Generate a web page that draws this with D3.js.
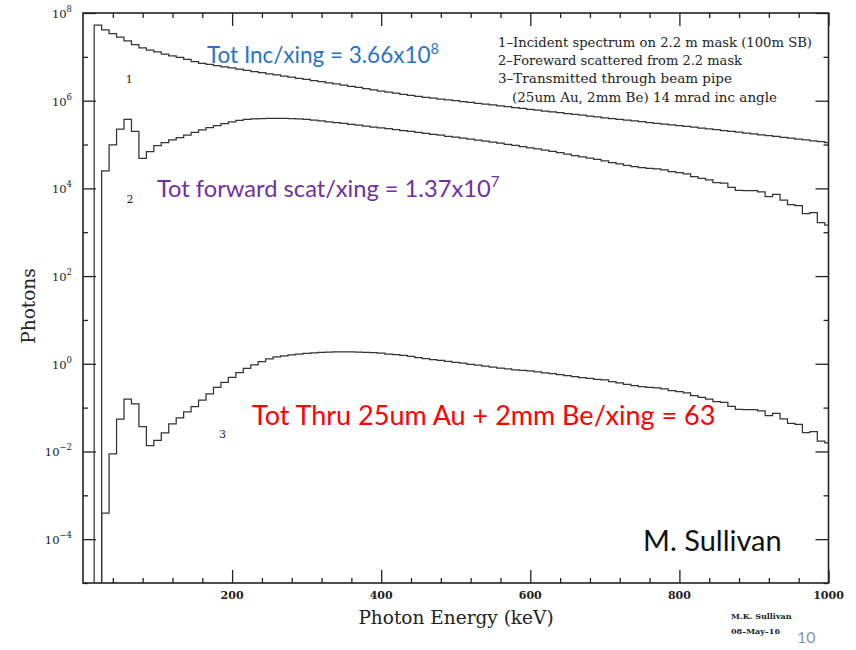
<!DOCTYPE html>
<html>
<head>
<meta charset="utf-8">
<script src="https://cdn.jsdelivr.net/npm/d3@7"></script>
<style>
  html, body { margin: 0; padding: 0; background: #fff; }
  svg { display: block; }
</style>
</head>
<body>
<svg id="chart" width="856" height="650"></svg>
<script>
// Photon spectra per beam crossing, histogrammed in 10 keV bins (bin centres).
const binWidth = 10;
const incidentStart = 20;      // first non-empty bin centre, keV
const forwardStart = 30;
const transmittedStart = 30;

// 1 - incident spectrum on the 2.2 m mask
const incident = [
  5.3e7, 4.1e7, 3.4e7, 2.8e7, 2.3e7, 1.9e7, 1.6e7, 1.43e7, 1.29e7, 1.16e7,
  1.05e7, 9.7e6, 8.7e6, 7.8e6, 7.13e6, 6.70e6, 6.31e6, 5.93e6, 5.57e6, 5.24e6,
  4.93e6, 4.63e6, 4.36e6, 4.10e6, 3.87e6, 3.65e6, 3.44e6, 3.24e6, 3.06e6, 2.88e6,
  2.72e6, 2.56e6, 2.41e6, 2.27e6, 2.13e6, 2.00e6, 1.88e6, 1.76e6, 1.66e6, 1.56e6,
  1.48e6, 1.40e6, 1.32e6, 1.25e6, 1.19e6, 1.14e6, 1.09e6, 1.04e6, 1.00e6, 9.55e5,
  9.14e5, 8.73e5, 8.35e5, 7.98e5, 7.63e5, 7.29e5, 6.97e5, 6.67e5, 6.37e5, 6.08e5,
  5.82e5, 5.56e5, 5.32e5, 5.08e5, 4.86e5, 4.66e5, 4.45e5, 4.26e5, 4.07e5, 3.91e5,
  3.75e5, 3.61e5, 3.46e5, 3.32e5, 3.18e5, 3.05e5, 2.94e5, 2.82e5, 2.70e5, 2.59e5,
  2.48e5, 2.38e5, 2.28e5, 2.18e5, 2.09e5, 2.00e5, 1.91e5, 1.83e5, 1.75e5, 1.67e5,
  1.60e5, 1.53e5, 1.46e5, 1.40e5, 1.33e5, 1.27e5, 1.21e5, 1.16e5, 1.10e5
];

// 2 - forward scattered from the 2.2 m mask
const forward = [
  2.5e4, 9.8e4, 2.26e5, 3.77e5, 1.99e5, 4.86e4, 6.87e4, 9.42e4, 1.11e5, 1.27e5,
  1.43e5, 1.65e5, 1.90e5, 2.15e5, 2.42e5, 2.69e5, 2.99e5, 3.27e5, 3.57e5, 3.77e5,
  3.87e5, 3.91e5, 3.93e5, 3.93e5, 3.93e5, 3.91e5, 3.87e5, 3.77e5, 3.61e5, 3.46e5,
  3.30e5, 3.17e5, 3.02e5, 2.88e5, 2.76e5, 2.63e5, 2.51e5, 2.41e5, 2.31e5, 2.20e5,
  2.09e5, 2.00e5, 1.89e5, 1.80e5, 1.71e5, 1.63e5, 1.54e5, 1.47e5, 1.40e5, 1.33e5,
  1.26e5, 1.20e5, 1.14e5, 1.08e5, 1.01e5, 9.51e4, 8.93e4, 8.43e4, 7.92e4, 7.43e4,
  6.98e4, 6.52e4, 6.06e4, 5.62e4, 5.26e4, 4.91e4, 4.61e4, 4.22e4, 3.86e4, 3.60e4,
  3.36e4, 3.13e4, 2.97e4, 2.87e4, 2.77e4, 2.63e4, 2.40e4, 2.28e4, 2.13e4, 1.85e4,
  1.70e4, 1.56e4, 1.35e4, 1.31e4, 1.06e4, 9.05e3, 8.87e3, 8.87e3, 8.28e3, 6.47e3,
  7.33e3, 5.43e3, 4.29e3, 4.07e3, 2.65e3, 2.79e3, 1.65e3, 1.46e3
];

// 3 - transmitted through the beam pipe (25 um Au, 2 mm Be)
const transmitted = [
  3.9e-4, 8.8e-3, 5.46e-2, 0.157, 0.122, 3.68e-2, 1.35e-2, 1.80e-2, 2.64e-2, 4.24e-2,
  5.81e-2, 7.96e-2, 0.106, 0.149, 0.205, 0.288, 0.378, 0.492, 0.627, 0.789,
  0.94, 1.12, 1.29, 1.43, 1.52, 1.60, 1.67, 1.73, 1.78, 1.82,
  1.84, 1.86, 1.86, 1.86, 1.85, 1.83, 1.80, 1.74, 1.67, 1.61,
  1.55, 1.47, 1.38, 1.31, 1.25, 1.19, 1.13, 1.08, 1.03, 0.975,
  0.929, 0.881, 0.841, 0.798, 0.761, 0.726, 0.703, 0.685, 0.653, 0.623,
  0.594, 0.566, 0.538, 0.508, 0.480, 0.465, 0.443, 0.428, 0.391, 0.365,
  0.341, 0.317, 0.301, 0.291, 0.281, 0.266, 0.244, 0.231, 0.216, 0.187,
  0.172, 0.157, 0.137, 0.132, 0.107, 0.0916, 0.0897, 0.0897, 0.0838, 0.0655,
  0.0743, 0.0551, 0.0435, 0.0413, 0.0269, 0.0283, 0.0172, 0.0156
];

const xMajorTicks = [200, 400, 600, 800, 1000];
const xMinorTicks = d3.range(40, 1000, 40).filter(v => v % 200 !== 0);
const yMajorExponents = [-4, -2, 0, 2, 4, 6, 8];
const yMinorExponents = [-5, -3, -1, 1, 3, 5, 7];

const legendLines = [
  "1\u2013Incident spectrum on 2.2 m mask (100m SB)",
  "2\u2013Foreward scattered from 2.2 mask",
  "3\u2013Transmitted through beam pipe",
  "(25um Au, 2mm Be) 14 mrad inc angle"
];

const svg = d3.select("#chart");
const plot = { left: 83, right: 828.5, top: 13, bottom: 583 };

const x = d3.scaleLinear().domain([0, 1000]).range([plot.left, plot.right]);
const y = d3.scaleLog().domain([1e-5, 1e8]).range([plot.bottom, plot.top]);

const serif = "'DejaVu Serif', 'Liberation Serif', serif";
const sans = "Lato, 'Open Sans', sans-serif";

// clip for the histograms
svg.append("defs").append("clipPath").attr("id", "plotClip")
  .append("rect")
  .attr("x", plot.left).attr("y", plot.top)
  .attr("width", plot.right - plot.left).attr("height", plot.bottom - plot.top);

// ---- axes: inward ticks on all four sides ----
function styleAxis(g) {
  g.select(".domain").remove();
  g.selectAll(".tick line").attr("stroke", "#222").attr("stroke-width", 1.3);
  g.selectAll(".tick text").remove();
}
const majorLen = 13, minorLen = 5;
const yMajor = yMajorExponents.map(e => Math.pow(10, e));
const yMinor = yMinorExponents.map(e => Math.pow(10, e));

svg.append("g").attr("transform", `translate(0,${plot.bottom})`)
  .call(d3.axisBottom(x).tickValues(xMajorTicks).tickSize(-majorLen)).call(styleAxis);
svg.append("g").attr("transform", `translate(0,${plot.bottom})`)
  .call(d3.axisBottom(x).tickValues(xMinorTicks).tickSize(-minorLen)).call(styleAxis);
svg.append("g").attr("transform", `translate(0,${plot.top})`)
  .call(d3.axisTop(x).tickValues(xMajorTicks).tickSize(-majorLen)).call(styleAxis);
svg.append("g").attr("transform", `translate(0,${plot.top})`)
  .call(d3.axisTop(x).tickValues(xMinorTicks).tickSize(-minorLen)).call(styleAxis);
svg.append("g").attr("transform", `translate(${plot.left},0)`)
  .call(d3.axisLeft(y).tickValues(yMajor).tickSize(-majorLen)).call(styleAxis);
svg.append("g").attr("transform", `translate(${plot.left},0)`)
  .call(d3.axisLeft(y).tickValues(yMinor).tickSize(-minorLen)).call(styleAxis);
svg.append("g").attr("transform", `translate(${plot.right},0)`)
  .call(d3.axisRight(y).tickValues(yMajor).tickSize(-majorLen)).call(styleAxis);
svg.append("g").attr("transform", `translate(${plot.right},0)`)
  .call(d3.axisRight(y).tickValues(yMinor).tickSize(-minorLen)).call(styleAxis);

// frame
svg.append("rect")
  .attr("x", plot.left).attr("y", plot.top)
  .attr("width", plot.right - plot.left).attr("height", plot.bottom - plot.top)
  .attr("fill", "none").attr("stroke", "#222").attr("stroke-width", 1.6);

// x tick labels
svg.append("g").selectAll("text").data(xMajorTicks).join("text")
  .attr("x", d => x(d)).attr("y", plot.bottom + 16)
  .attr("text-anchor", "middle")
  .attr("font-family", serif).attr("font-size", 11).attr("font-weight", "bold")
  .attr("fill", "#222")
  .text(d => d);

// y tick labels: 10 with superscript exponent
const yl = svg.append("g").selectAll("text").data(yMajorExponents).join("text")
  .attr("x", 72).attr("y", d => y(Math.pow(10, d)) + 5)
  .attr("text-anchor", "end")
  .attr("font-family", serif).attr("font-size", 11.5).attr("fill", "#222");
yl.append("tspan").text("10");
yl.append("tspan").attr("dy", -6).attr("font-size", 8.5)
  .text(d => d < 0 ? "\u2212" + Math.abs(d) : String(d));

// axis titles
svg.append("text")
  .attr("transform", `translate(35,306) rotate(-90)`)
  .attr("text-anchor", "middle")
  .attr("font-family", serif).attr("font-size", 18.5).attr("fill", "#222")
  .text("Photons");
svg.append("text")
  .attr("x", 456).attr("y", 623.5)
  .attr("text-anchor", "middle")
  .attr("font-family", serif).attr("font-size", 18.5).attr("fill", "#222")
  .text("Photon Energy (keV)");

// ---- histograms ----
function stepPoints(values, start) {
  const pts = [[start - binWidth / 2, y.domain()[0]]];
  values.forEach((v, i) => {
    const c = start + i * binWidth;
    pts.push([c - binWidth / 2, v], [c + binWidth / 2, v]);
  });
  return pts;
}
const line = d3.line().x(d => x(d[0])).y(d => y(d[1]));
const series = [
  { values: incident, start: incidentStart },
  { values: forward, start: forwardStart },
  { values: transmitted, start: transmittedStart }
];
svg.append("g").attr("clip-path", "url(#plotClip)")
  .selectAll("path").data(series).join("path")
  .attr("d", d => line(stepPoints(d.values, d.start)))
  .attr("fill", "none").attr("stroke", "#333").attr("stroke-width", 1.25)
  .attr("stroke-linejoin", "miter");

// curve numbers
const curveLabels = [
  { t: "1", e: 62, v: 2.5e6 },
  { t: "2", e: 63, v: 4.6e3 },
  { t: "3", e: 187, v: 2.0e-2 }
];
svg.append("g").selectAll("text").data(curveLabels).join("text")
  .attr("x", d => x(d.e)).attr("y", d => y(d.v))
  .attr("text-anchor", "middle")
  .attr("font-family", serif).attr("font-size", 11).attr("fill", "#222")
  .text(d => d.t);

// legend block
svg.append("g").selectAll("text").data(legendLines).join("text")
  .attr("x", (d, i) => i === 3 ? 512 : 498)
  .attr("y", (d, i) => [47, 64.5, 83, 102][i])
  .attr("font-family", serif).attr("font-size", 12.5).attr("fill", "#222")
  .attr("textLength", (d, i) => [314, 244, 234, 265][i])
  .attr("lengthAdjust", "spacingAndGlyphs")
  .text(d => d);

// totals per crossing
function annotate(xp, yp, size, color, main, sup) {
  const t = svg.append("text").attr("x", xp).attr("y", yp)
    .attr("font-family", sans).attr("font-size", size).attr("fill", color);
  t.append("tspan").text(main);
  if (sup) t.append("tspan").attr("dy", -size * 0.42).attr("font-size", size * 0.64).text(sup);
}
annotate(207, 63, 22.5, "#2a72c6", "Tot Inc/xing = 3.66x10", "8");
annotate(157, 197, 23.7, "#7030a0", "Tot forward scat/xing = 1.37x10", "7");
annotate(252, 425, 27, "#ff0000", "Tot Thru 25um Au + 2mm Be/xing = 63");

// signature and slide number
svg.append("text").attr("x", 643).attr("y", 551)
  .attr("font-family", sans).attr("font-size", 29).attr("fill", "#111")
  .text("M. Sullivan");
svg.append("text").attr("x", 731).attr("y", 619)
  .attr("font-family", serif).attr("font-size", 8).attr("font-weight", "bold").attr("fill", "#222")
  .text("M.K. Sullivan");
svg.append("text").attr("x", 731).attr("y", 634)
  .attr("font-family", serif).attr("font-size", 8).attr("font-weight", "bold").attr("fill", "#222")
  .text("08\u2013May\u201316");
svg.append("text").attr("x", 797).attr("y", 643)
  .attr("font-family", sans).attr("font-size", 16).attr("fill", "#8497b0")
  .text("10");
</script>
</body>
</html>
